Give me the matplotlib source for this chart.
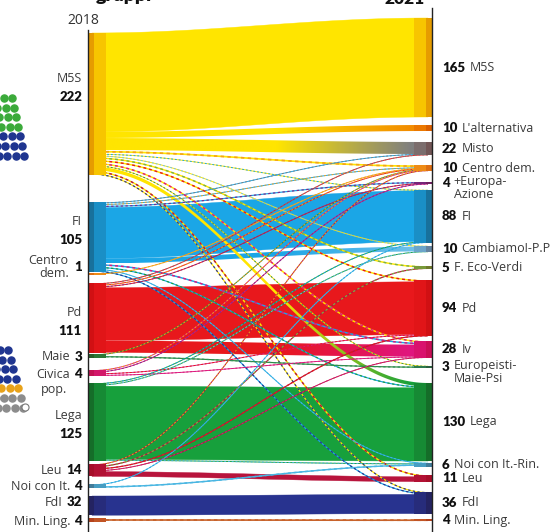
import numpy as np
import matplotlib
matplotlib.use("Agg")
import matplotlib.pyplot as plt
from matplotlib.patches import Polygon
from matplotlib.colors import to_rgb

# ---------------- data ----------------
left_names = ["M5S", "FI", "Centro dem.", "Pd", "Maie", "Civica pop.", "Lega",
              "Leu", "Noi con It.", "FdI", "Min. Ling."]
left_values = [222, 105, 1, 111, 3, 4, 125, 14, 4, 32, 4]

right_names = ["M5S", "L'alternativa", "Misto", "Centro dem.", "+Europa-\nAzione", "FI",
               "Cambiamo!-P.P", "F. Eco-Verdi", "Pd", "Iv", "Europeisti-\nMaie-Psi",
               "Lega", "Noi con It.-Rin.", "Leu", "FdI", "Min. Ling."]
right_values = [165, 10, 22, 10, 4, 88, 10, 5, 94, 28, 3, 130, 6, 11, 36, 4]

flow_source = [0, 0, 0, 0, 0, 0, 0, 0, 0, 0, 0, 0, 0,
               1, 1, 1, 1, 1, 1, 1, 1, 1,
               2,
               3, 3, 3, 3, 3,
               4, 4,
               5, 5, 5, 5,
               6, 6, 6, 6,
               7, 7, 7, 7, 7,
               8, 8,
               9,
               10]
flow_target = [0, 1, 2, 3, 5, 6, 7, 8, 9, 10, 11, 13, 14,
               2, 3, 4, 5, 6, 9, 11, 12, 14,
               3,
               2, 3, 4, 8, 9,
               3, 10,
               3, 4, 8, 9,
               5, 6, 11, 12,
               3, 7, 8, 9, 13,
               5, 12,
               14,
               15]
flow_value = [165, 10, 20, 4, 1, 1, 3, 3, 3, 1, 6, 3, 2,
              1, 1, 2, 85, 8, 3, 2, 1, 2,
              1,
              1, 1, 1, 88, 20,
              1, 2,
              1, 1, 1, 1,
              1, 1, 122, 1,
              1, 2, 2, 1, 8,
              1, 3,
              32,
              4]

# ---------------- style / layout ----------------
left_colors = ['#FFE500', '#1BA6E6', '#F5A21A', '#E8181C', '#2E8B3E', '#D81B7A',
               '#17A03C', '#B8143C', '#49B6E2', '#28338F', '#C8632B']
right_colors = ['#FFE500', '#F28C00', '#7F7F7F', '#F5A21A', '#7B2A8C', '#1BA6E6',
                '#6FC0EA', '#7CB342', '#E8181C', '#E0157F', '#2F8F5B', '#17A03C',
                '#49B6E2', '#B8143C', '#28338F', '#C8632B']

K_LEFT, K_RIGHT = 0.6, 0.6
PAD_LEFT = 1.0
SMALL = 5
left_gaps = [33, 27, 1, 8.2, 1.4, 12, 6.8, 3, 7.6, 7.6, 3.1]
right_gaps = [18, 8, 11, 9.8, 11, 5.6, 3.2, 14, 11, 4.6, 8.2, 15.2, 2, 8.4, 10.4, 5.4]
left_label_dy = [-16, -6, -7, 4, 1, 1, 3, 0, 0, -3.5, 1]
left_style = ['stack', 'stack', 'side2', 'stack', 'inline', 'inline2', 'stack',
              'inline', 'inline', 'inline', 'inline']

XL0, XL1 = 88, 106      # left node bar
XR0, XR1 = 414, 432     # right node bar
NAME_FONT = 'Open Sans'
NUM_FONT = 'Lato'
NAME_COLOR = '#3a3a3a'


def dark(c, a, b):
    r, g, bl = to_rgb(c)
    return (r * a, g * b, bl * b)


def mix(c1, c2, w):
    p, q = np.array(to_rgb(c1)), np.array(to_rgb(c2))
    return tuple(p * (1 - w) + q * w)


fig = plt.figure(figsize=(5.56, 5.32), dpi=100)
ax = fig.add_axes([0, 0, 1, 1])
ax.axis('off')

n_flows = len(flow_value)
src = np.array(flow_source)
tgt = np.array(flow_target)
val = np.array(flow_value, dtype=float)

slot_left = np.where(val < SMALL, val * K_LEFT + PAD_LEFT, val * K_LEFT)

left_tops, left_bots = [], []
y = 0.0
for i, v in enumerate(left_values):
    y += left_gaps[i]
    h = slot_left[src == i].sum()
    left_tops.append(y)
    left_bots.append(y + h)
    y += h
right_tops, right_bots = [], []
y = 0.0
for j, v in enumerate(right_values):
    y += right_gaps[j]
    right_tops.append(y)
    right_bots.append(y + v * K_RIGHT)
    y += v * K_RIGHT

s_top = np.zeros(n_flows)
s_cen = np.zeros(n_flows)
for i in range(len(left_values)):
    idx = [f for f in np.argsort(tgt, kind='stable') if src[f] == i]
    y = left_tops[i]
    for f in idx:
        s_top[f] = y
        s_cen[f] = y + slot_left[f] / 2
        y += slot_left[f]
t_top = np.zeros(n_flows)
for j in range(len(right_values)):
    idx = [f for f in np.argsort(src, kind='stable') if tgt[f] == j]
    y = right_tops[j]
    for f in idx:
        t_top[f] = y
        y += val[f] * K_RIGHT

xs = np.linspace(XL0 + 4, XR1 - 4, 120)
tt = (xs - xs[0]) / (xs[-1] - xs[0])
ss = (1 - np.cos(np.pi * tt)) / 2
wfine = np.clip((np.linspace(0, 1, 300) - 0.55) / 0.4, 0, 1)

# big bands
order = np.argsort(-val)
for f in order:
    if val[f] < SMALL:
        continue
    c0, c1 = left_colors[src[f]], right_colors[tgt[f]]
    y0a, y0b = s_top[f], s_top[f] + val[f] * K_LEFT
    y1a, y1b = t_top[f], t_top[f] + val[f] * K_RIGHT
    top = y0a + (y1a - y0a) * ss
    bot = y0b + (y1b - y0b) * ss
    verts = np.vstack([np.column_stack([xs, top]), np.column_stack([xs[::-1], bot[::-1]])])
    if to_rgb(c0) == to_rgb(c1):
        ax.add_patch(Polygon(verts, closed=True, facecolor=c0, edgecolor=c0, lw=0.3, zorder=2))
    else:
        poly = Polygon(verts, closed=True, facecolor='none', edgecolor='none', zorder=2)
        ax.add_patch(poly)
        grad = np.array([mix(c0, c1, w) for w in wfine])[None, :, :]
        im = ax.imshow(grad, extent=[xs[0], xs[-1], max(top.max(), bot.max()), min(top.min(), bot.min())],
                       aspect='auto', zorder=2, interpolation='bilinear')
        im.set_clip_path(poly)

# thin lines (small moves)
for f in range(n_flows):
    if val[f] >= SMALL:
        continue
    c0, c1 = left_colors[src[f]], right_colors[tgt[f]]
    y0 = s_cen[f]
    y1 = t_top[f] + val[f] * K_RIGHT / 2
    yy = y0 + (y1 - y0) * ss
    lw = 0.5 + 0.18 * val[f]
    ax.plot(xs, yy, color=c0, lw=lw, zorder=3, solid_capstyle='butt')
    ax.plot(xs, yy, color=c1, lw=lw, zorder=3.1, dashes=(2.0, 2.0))

# node bars
for i in range(len(left_values)):
    h = left_bots[i] - left_tops[i]
    c = left_colors[i]
    ax.add_patch(plt.Rectangle((XL0, left_tops[i]), 6, h, color=dark(c, 0.9, 0.68), lw=0, zorder=4))
    ax.add_patch(plt.Rectangle((XL0 + 6, left_tops[i]), XL1 - XL0 - 6, h,
                               color=dark(c, 0.97, 0.86), lw=0, zorder=4))
for j in range(len(right_values)):
    h = right_bots[j] - right_tops[j]
    c = right_colors[j]
    ax.add_patch(plt.Rectangle((XR0, right_tops[j]), XR1 - XR0 - 6, h,
                               color=dark(c, 0.97, 0.86), lw=0, zorder=4))
    ax.add_patch(plt.Rectangle((XR1 - 6, right_tops[j]), 6, h, color=dark(c, 0.9, 0.68), lw=0, zorder=4))

# axis lines
ax.plot([XL0, XL0], [30, 532], color='#222222', lw=1.0, zorder=5)
ax.plot([XR1, XR1], [8, 532], color='#222222', lw=1.0, zorder=5)

# header texts (title and 2021 are cropped at the top edge as in the reference)
ax.text(83, 20, "2018", ha='center', va='center', fontsize=10, family=NAME_FONT, color='#333333')
ax.text(425, 4, "2021", ha='right', va='baseline', fontsize=12.5, family=NUM_FONT,
        fontweight='heavy', color='#111111')
ax.text(96, 1, "gruppi", ha='left', va='baseline', fontsize=14, family=NUM_FONT,
        fontweight='heavy', color='#111111')

NSZ, VSZ = 9, 9.5
for i, name in enumerate(left_names):
    yc = (left_tops[i] + left_bots[i]) / 2 + left_label_dy[i]
    v = str(left_values[i])
    st = left_style[i]
    if st == 'stack':
        ax.text(82, yc - 9.5, name, ha='right', va='center', fontsize=NSZ, family=NAME_FONT, color=NAME_COLOR)
        ax.text(82, yc + 9, v, ha='right', va='center', fontsize=VSZ, family=NUM_FONT,
                fontweight='heavy', color='#111111')
    else:
        num = ax.text(82, yc, v, ha='right', va='center', fontsize=VSZ, family=NUM_FONT,
                      fontweight='heavy', color='#111111')
        if st == 'side2':
            ax.annotate("Centro\ndem.", xy=(0, 0.5), xycoords=num, xytext=(-4, 0),
                        textcoords='offset points', ha='right', va='center', multialignment='right',
                        linespacing=1.05, fontsize=NSZ, family=NAME_FONT, color=NAME_COLOR)
        elif st == 'inline2':
            civ = ax.annotate("Civica", xy=(0, 0.5), xycoords=num, xytext=(-3, 0),
                              textcoords='offset points', ha='right', va='center',
                              fontsize=NSZ, family=NAME_FONT, color=NAME_COLOR)
            ax.annotate("pop.", xy=(1, 0), xycoords=civ, xytext=(-2, -2),
                        textcoords='offset points', ha='right', va='top',
                        fontsize=NSZ, family=NAME_FONT, color=NAME_COLOR)
        else:
            ax.annotate(name, xy=(0, 0.5), xycoords=num, xytext=(-3, 0),
                        textcoords='offset points', ha='right', va='center',
                        fontsize=NSZ, family=NAME_FONT, color=NAME_COLOR)

for j, name in enumerate(right_names):
    yc = (right_tops[j] + right_bots[j]) / 2
    num = ax.text(442, yc, str(right_values[j]), ha='left', va='center', fontsize=VSZ,
                  family=NUM_FONT, fontweight='heavy', color='#111111')
    if '\n' in name:
        ax.annotate(name, xy=(1, 1), xycoords=num, xytext=(3, 1.5), textcoords='offset points',
                    ha='left', va='top', linespacing=1.0, fontsize=NSZ, family=NAME_FONT,
                    color=NAME_COLOR)
    else:
        ax.annotate(name, xy=(1, 0.5), xycoords=num, xytext=(3, 0), textcoords='offset points',
                    ha='left', va='center', fontsize=NSZ, family=NAME_FONT, color=NAME_COLOR)

# partial hemicycle decorations (cropped neighbouring graphic at the left edge)
for i in range(7):
    yrow = 98 + 9.6 * i
    xrow = np.arange(12 + 2.0 * i, -5, -8.3)
    col = '#3BAA3A' if i < 4 else '#1F3590'
    ax.scatter(xrow, np.full(len(xrow), yrow), s=26, color=col, zorder=6)
low_cols = ['#1F3590', '#1F3590', '#1F3590', '#1F3590', '#E8A21A', '#8C8C8C', '#8C8C8C']
for i in range(7):
    yrow = 350 + 9.6 * i
    xrow = np.arange(8 + 2.5 * i, -5, -8.3)
    ax.scatter(xrow, np.full(len(xrow), yrow), s=26, color=low_cols[i], zorder=6)
ax.scatter([24.5], [407], s=26, facecolor='white', edgecolor='#777777', lw=0.8, zorder=6)

ax.set_xlim(0, 556)
ax.set_ylim(532, 0)
fig.savefig("out.png", dpi=100)
